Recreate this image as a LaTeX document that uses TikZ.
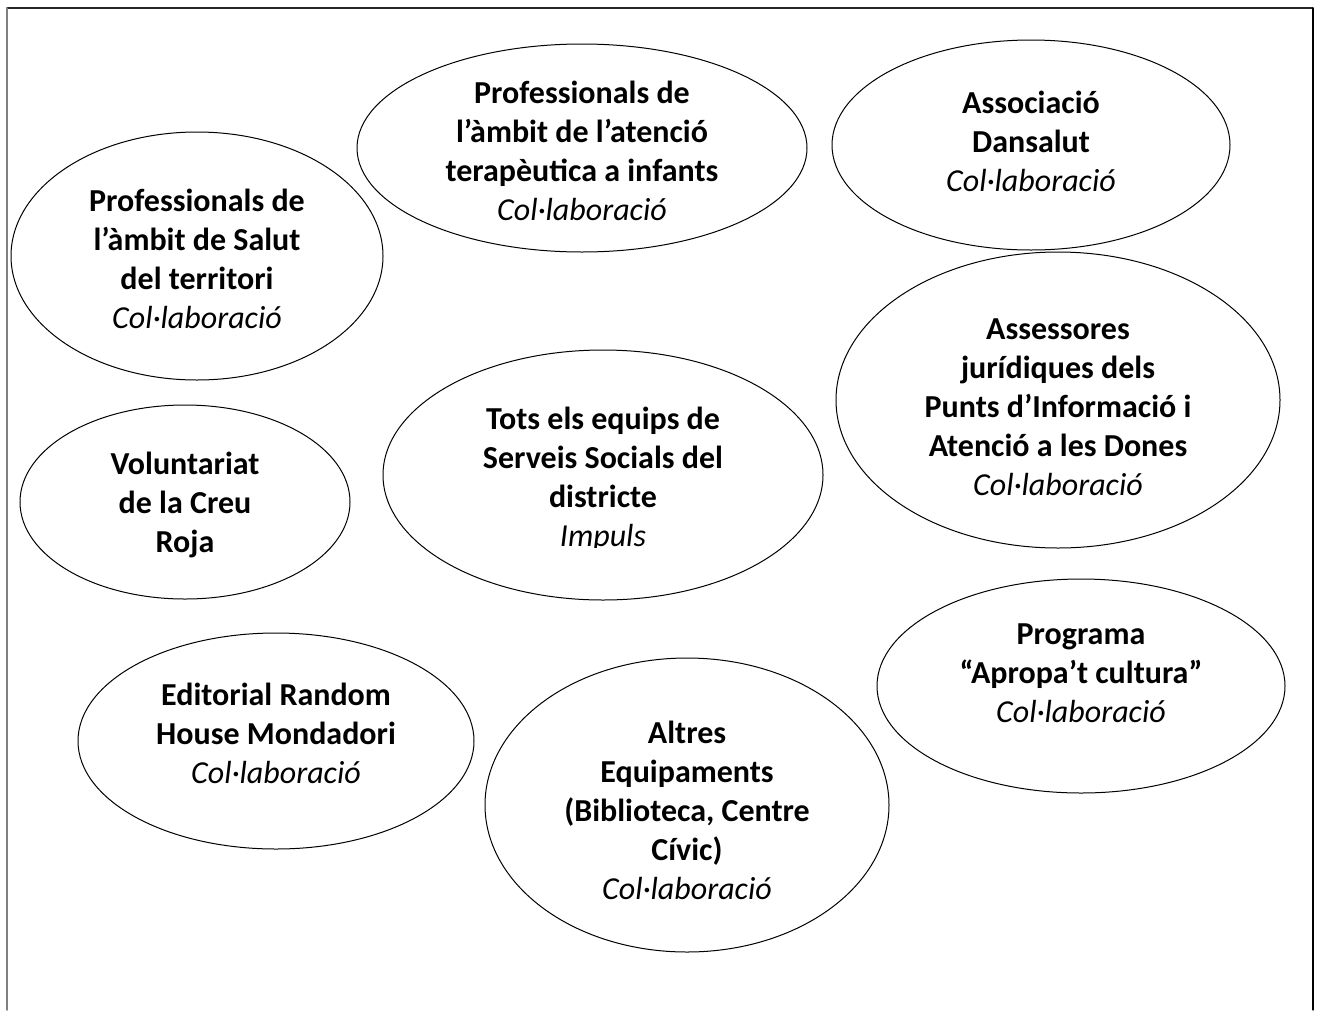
\documentclass[tikz,border=0pt]{standalone}
\usepackage{fontspec}
\setmainfont{Carlito}
\usetikzlibrary{shapes.geometric}
\newcommand{\colab}{{\mdseries\itshape Col·laboració}}
\tikzset{
	bubble/.style={draw, ellipse, line width=1pt, inner sep=0pt},
	bubbletext/.style={align=center, inner sep=0pt, font=\fontsize{32}{39}\selectfont\bfseries},
}

\begin{document}
\begin{tikzpicture}[x=1pt, y=-1pt, line cap=round]
	\useasboundingbox (0,0) rectangle (1322,1010);
	\draw[line width=1.2pt, black!85] (7,8) -- (1313,8);
	\draw[line width=1.6pt, gray] (7,8) -- (7,1010);
	\draw[line width=1.2pt, black] (1313,8) -- (1313,1010);

	\node[bubble, minimum width=450pt, minimum height=208pt] (terap) at (582,148) {};
	\node[bubble, minimum width=398pt, minimum height=210pt] (dansalut) at (1031,145) {};
	\node[bubble, minimum width=372pt, minimum height=248pt] (salut) at (197,256) {};
	\node[bubble, minimum width=440pt, minimum height=250pt] (tots) at (603,475) {};
	\node[bubble, minimum width=444pt, minimum height=296pt] (assess) at (1058,400) {};
	\node[bubble, minimum width=330pt, minimum height=194pt] (creu) at (185,502) {};
	\node[bubble, minimum width=396pt, minimum height=216pt] (editorial) at (276,741) {};
	\node[bubble, minimum width=404pt, minimum height=294pt] (equip) at (687,805) {};
	\node[bubble, minimum width=408pt, minimum height=214pt] (apropa) at (1081,686) {};

	\node[bubbletext] (terap-t) at (582,151) {Professionals de\\l’àmbit de l’atenció\\terapèutica a infants\\\colab};
	\node[bubbletext] (dansalut-t) at (1031,141) {Associació\\Dansalut\\\colab};
	\node[bubbletext] (salut-t) at (197,259) {Professionals de\\l’àmbit de Salut\\del territori\\\colab};
	\begin{scope}
		\clip (383,350) rectangle (823,547);
		\node[bubbletext] (tots-t) at (603,479) {Tots els equips de\\Serveis Socials del\\districte\\{\mdseries\itshape Impuls}};
	\end{scope}
	\node[bubbletext] (assess-t) at (1058,407) {Assessores\\jurídiques dels\\Punts d’Informació i\\Atenció a les Dones\\\colab};
	\node[bubbletext] (creu-t) at (185,505) {Voluntariat\\de la Creu\\Roja};
	\node[bubbletext] (editorial-t) at (276,733) {Editorial Random\\House Mondadori\\\colab};
	\node[bubbletext] (equip-t) at (687,810) {Altres\\Equipaments\\(Biblioteca, Centre\\Cívic)\\\colab};
	\node[bubbletext] (apropa-t) at (1081,673) {Programa\\“Apropa’t cultura”\\\colab};
\end{tikzpicture}
\end{document}
